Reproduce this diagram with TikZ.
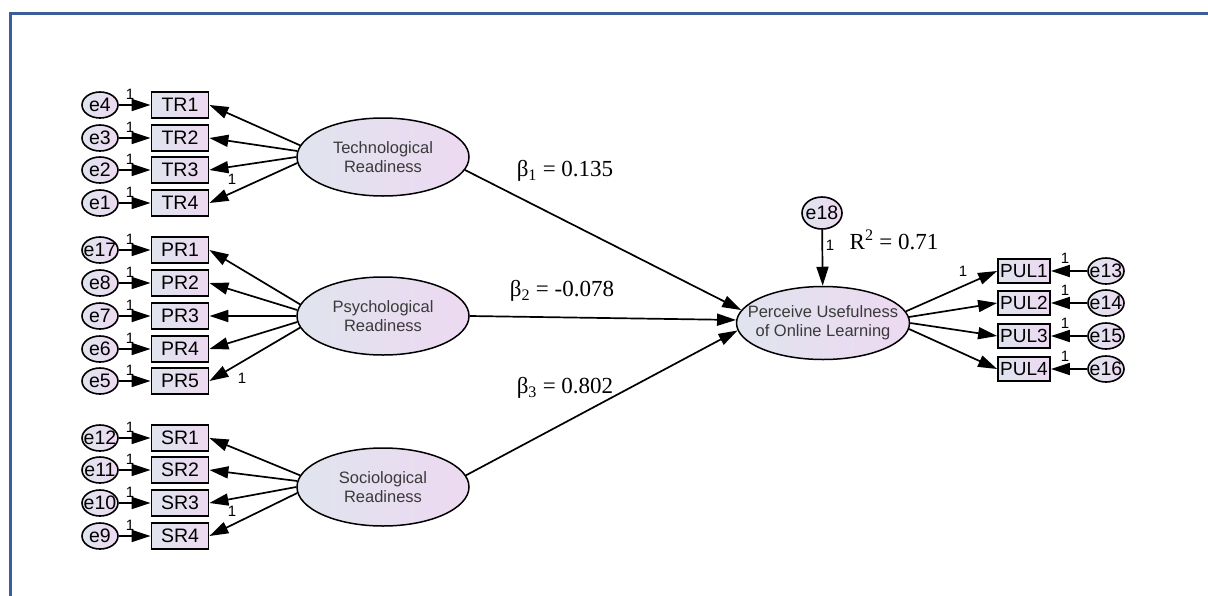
\documentclass[tikz,border=0pt]{standalone}
\usepackage{fontspec}
\setmainfont{Liberation Sans}
\newfontfamily\seriffont{Liberation Serif}
\usetikzlibrary{arrows.meta,shapes.geometric}
\definecolor{frameblue}{HTML}{3D5C9A}
\definecolor{fillA}{HTML}{E0E4EE}
\definecolor{fillB}{HTML}{EDD9F1}
\definecolor{txtgray}{HTML}{3A3A3A}
\tikzset{
  shadefill/.style={left color=fillA, right color=fillB},
  llab/.style={align=center, font=\fontsize{16.5}{19}\selectfont, text=txtgray, inner sep=0pt},
  latent/.style={ellipse, draw, line width=1.5pt, shadefill, minimum width=172pt, minimum height=78pt, inner sep=0pt, label={[llab]center:#1}},
  elab/.style={font=\fontsize{19.5}{19.5}\selectfont, inner sep=0pt},
  err/.style={ellipse, draw, line width=1.6pt, shadefill, minimum width=36pt, minimum height=26pt, inner sep=0pt, label={[elab]center:#1}},
  ind/.style={rectangle, draw, line width=1.8pt, shadefill, minimum width=57pt, minimum height=26pt, inner sep=1pt, font=\fontsize{19.5}{19.5}\selectfont},
  indr/.style={ind, minimum width=52pt, minimum height=24pt, font=\fontsize{19}{19}\selectfont},
  arr/.style={-{Triangle[length=19pt,width=12pt]}, line width=1.7pt},
  one/.style={font=\fontsize{15}{15}\selectfont, inner sep=0pt},
  coef/.style={font=\seriffont\fontsize{23}{23}\selectfont, inner sep=0pt},
}
\begin{document}
\begin{tikzpicture}[x=1pt,y=-1pt]
\useasboundingbox (0,0) rectangle (1208,595);
\fill[white] (0,0) rectangle (1208,595);
\draw[frameblue, line width=3pt] (10,597) -- (10,13.5) -- (1210,13.5);

% latent variables
\node[latent={Technological\\Readiness}] (TR) at (383,157) {};
\node[latent={Psychological\\Readiness}] (PR) at (383,316) {};
\node[latent={Sociological\\Readiness}] (SR) at (383,487) {};
\node[latent={Perceive Usefulness\\of Online Learning}, minimum width=173pt, minimum height=73pt] (PU) at (823,323) {};

% indicators
\node[ind] (TR1) at (180,105) {TR1};
\node[ind] (TR2) at (180,138) {TR2};
\node[ind] (TR3) at (180,170) {TR3};
\node[ind] (TR4) at (180,203) {TR4};
\node[ind] (PR1) at (180,250) {PR1};
\node[ind] (PR2) at (180,283) {PR2};
\node[ind] (PR3) at (180,316) {PR3};
\node[ind] (PR4) at (180,349) {PR4};
\node[ind] (PR5) at (180,381) {PR5};
\node[ind] (SR1) at (180,438) {SR1};
\node[ind] (SR2) at (180,470) {SR2};
\node[ind] (SR3) at (180,503) {SR3};
\node[ind] (SR4) at (180,536) {SR4};
\node[indr] (PUL1) at (1024,271) {PUL1};
\node[indr] (PUL2) at (1024,303) {PUL2};
\node[indr] (PUL3) at (1024,336) {PUL3};
\node[indr] (PUL4) at (1024,369) {PUL4};

% error terms
\node[err=e4] (e4) at (100,105) {};
\node[err=e3] (e3) at (100,138) {};
\node[err=e2] (e2) at (100,170) {};
\node[err=e1] (e1) at (100,203) {};
\node[err=e17] (e17) at (100,250) {};
\node[err=e8] (e8) at (100,283) {};
\node[err=e7] (e7) at (100,316) {};
\node[err=e6] (e6) at (100,349) {};
\node[err=e5] (e5) at (100,381) {};
\node[err=e12] (e12) at (100,438) {};
\node[err=e11] (e11) at (100,470) {};
\node[err=e10] (e10) at (100,503) {};
\node[err=e9] (e9) at (100,536) {};
\node[err=e13] (e13) at (1106,271) {};
\node[err=e14] (e14) at (1106,303) {};
\node[err=e15] (e15) at (1106,336) {};
\node[err=e16] (e16) at (1106,369) {};
\node[err=e18, minimum width=40pt, minimum height=32pt] (e18) at (822,213) {};

% error arrows
\foreach \e/\b in {e4/TR1,e3/TR2,e2/TR3,e1/TR4,e17/PR1,e8/PR2,e7/PR3,e6/PR4,e5/PR5,e12/SR1,e11/SR2,e10/SR3,e9/SR4}{
  \draw[arr] (\e) -- (\b);
  \node[one] (one\e) at ([xshift=30pt,yshift=11pt]\e.center) {1};
}
\foreach \e/\b in {e13/PUL1,e14/PUL2,e15/PUL3,e16/PUL4}{
  \draw[arr] (\e) -- (\b);
  \node[one] (one\e) at ([xshift=-41pt,yshift=13pt]\e.center) {1};
}
\draw[arr] (e18) -- (PU);
\node[one] (onee18) at (830,245) {1};

% loadings
\draw[arr] (TR.172) -- (TR1.east);
\draw[arr] (TR.176) -- (TR2.east);
\draw[arr] (TR.180) -- (TR3.east);
\draw[arr] (TR.184) -- (TR4.east);
\draw[arr] (PR.172) -- (PR1.east);
\draw[arr] (PR.176) -- (PR2.east);
\draw[arr] (PR.180) -- (PR3.east);
\draw[arr] (PR.184) -- (PR4.east);
\draw[arr] (PR.188) -- (PR5.east);
\draw[arr] (SR.172) -- (SR1.east);
\draw[arr] (SR.176) -- (SR2.east);
\draw[arr] (SR.180) -- (SR3.east);
\draw[arr] (SR.184) -- (SR4.east);
\draw[arr] (PU.8) -- (PUL1.west);
\draw[arr] (PU.4) -- (PUL2.west);
\draw[arr] (PU.0) -- (PUL3.west);
\draw[arr] (PU.356) -- (PUL4.west);
\node[one] (oneTR4) at (232,179) {1};
\node[one] (onePR5) at (242,378) {1};
\node[one] (oneSR4) at (232,511) {1};
\node[one] (onePUL1) at (963,271) {1};

% structural paths
\draw[arr] (TR.-9) -- (PU.171);
\draw[arr] (PR.east) -- (PU.178);
\draw[arr] (SR.8) -- (PU.185);
\node[coef] (b1) at (565,171) {β\textsubscript{1} = 0.135};
\node[coef] (b2) at (562,291) {β\textsubscript{2} = -0.078};
\node[coef] (b3) at (565,388) {β\textsubscript{3} = 0.802};
\node[coef] (r2) at (894,240) {R\textsuperscript{2} = 0.71};
\end{tikzpicture}
\end{document}
